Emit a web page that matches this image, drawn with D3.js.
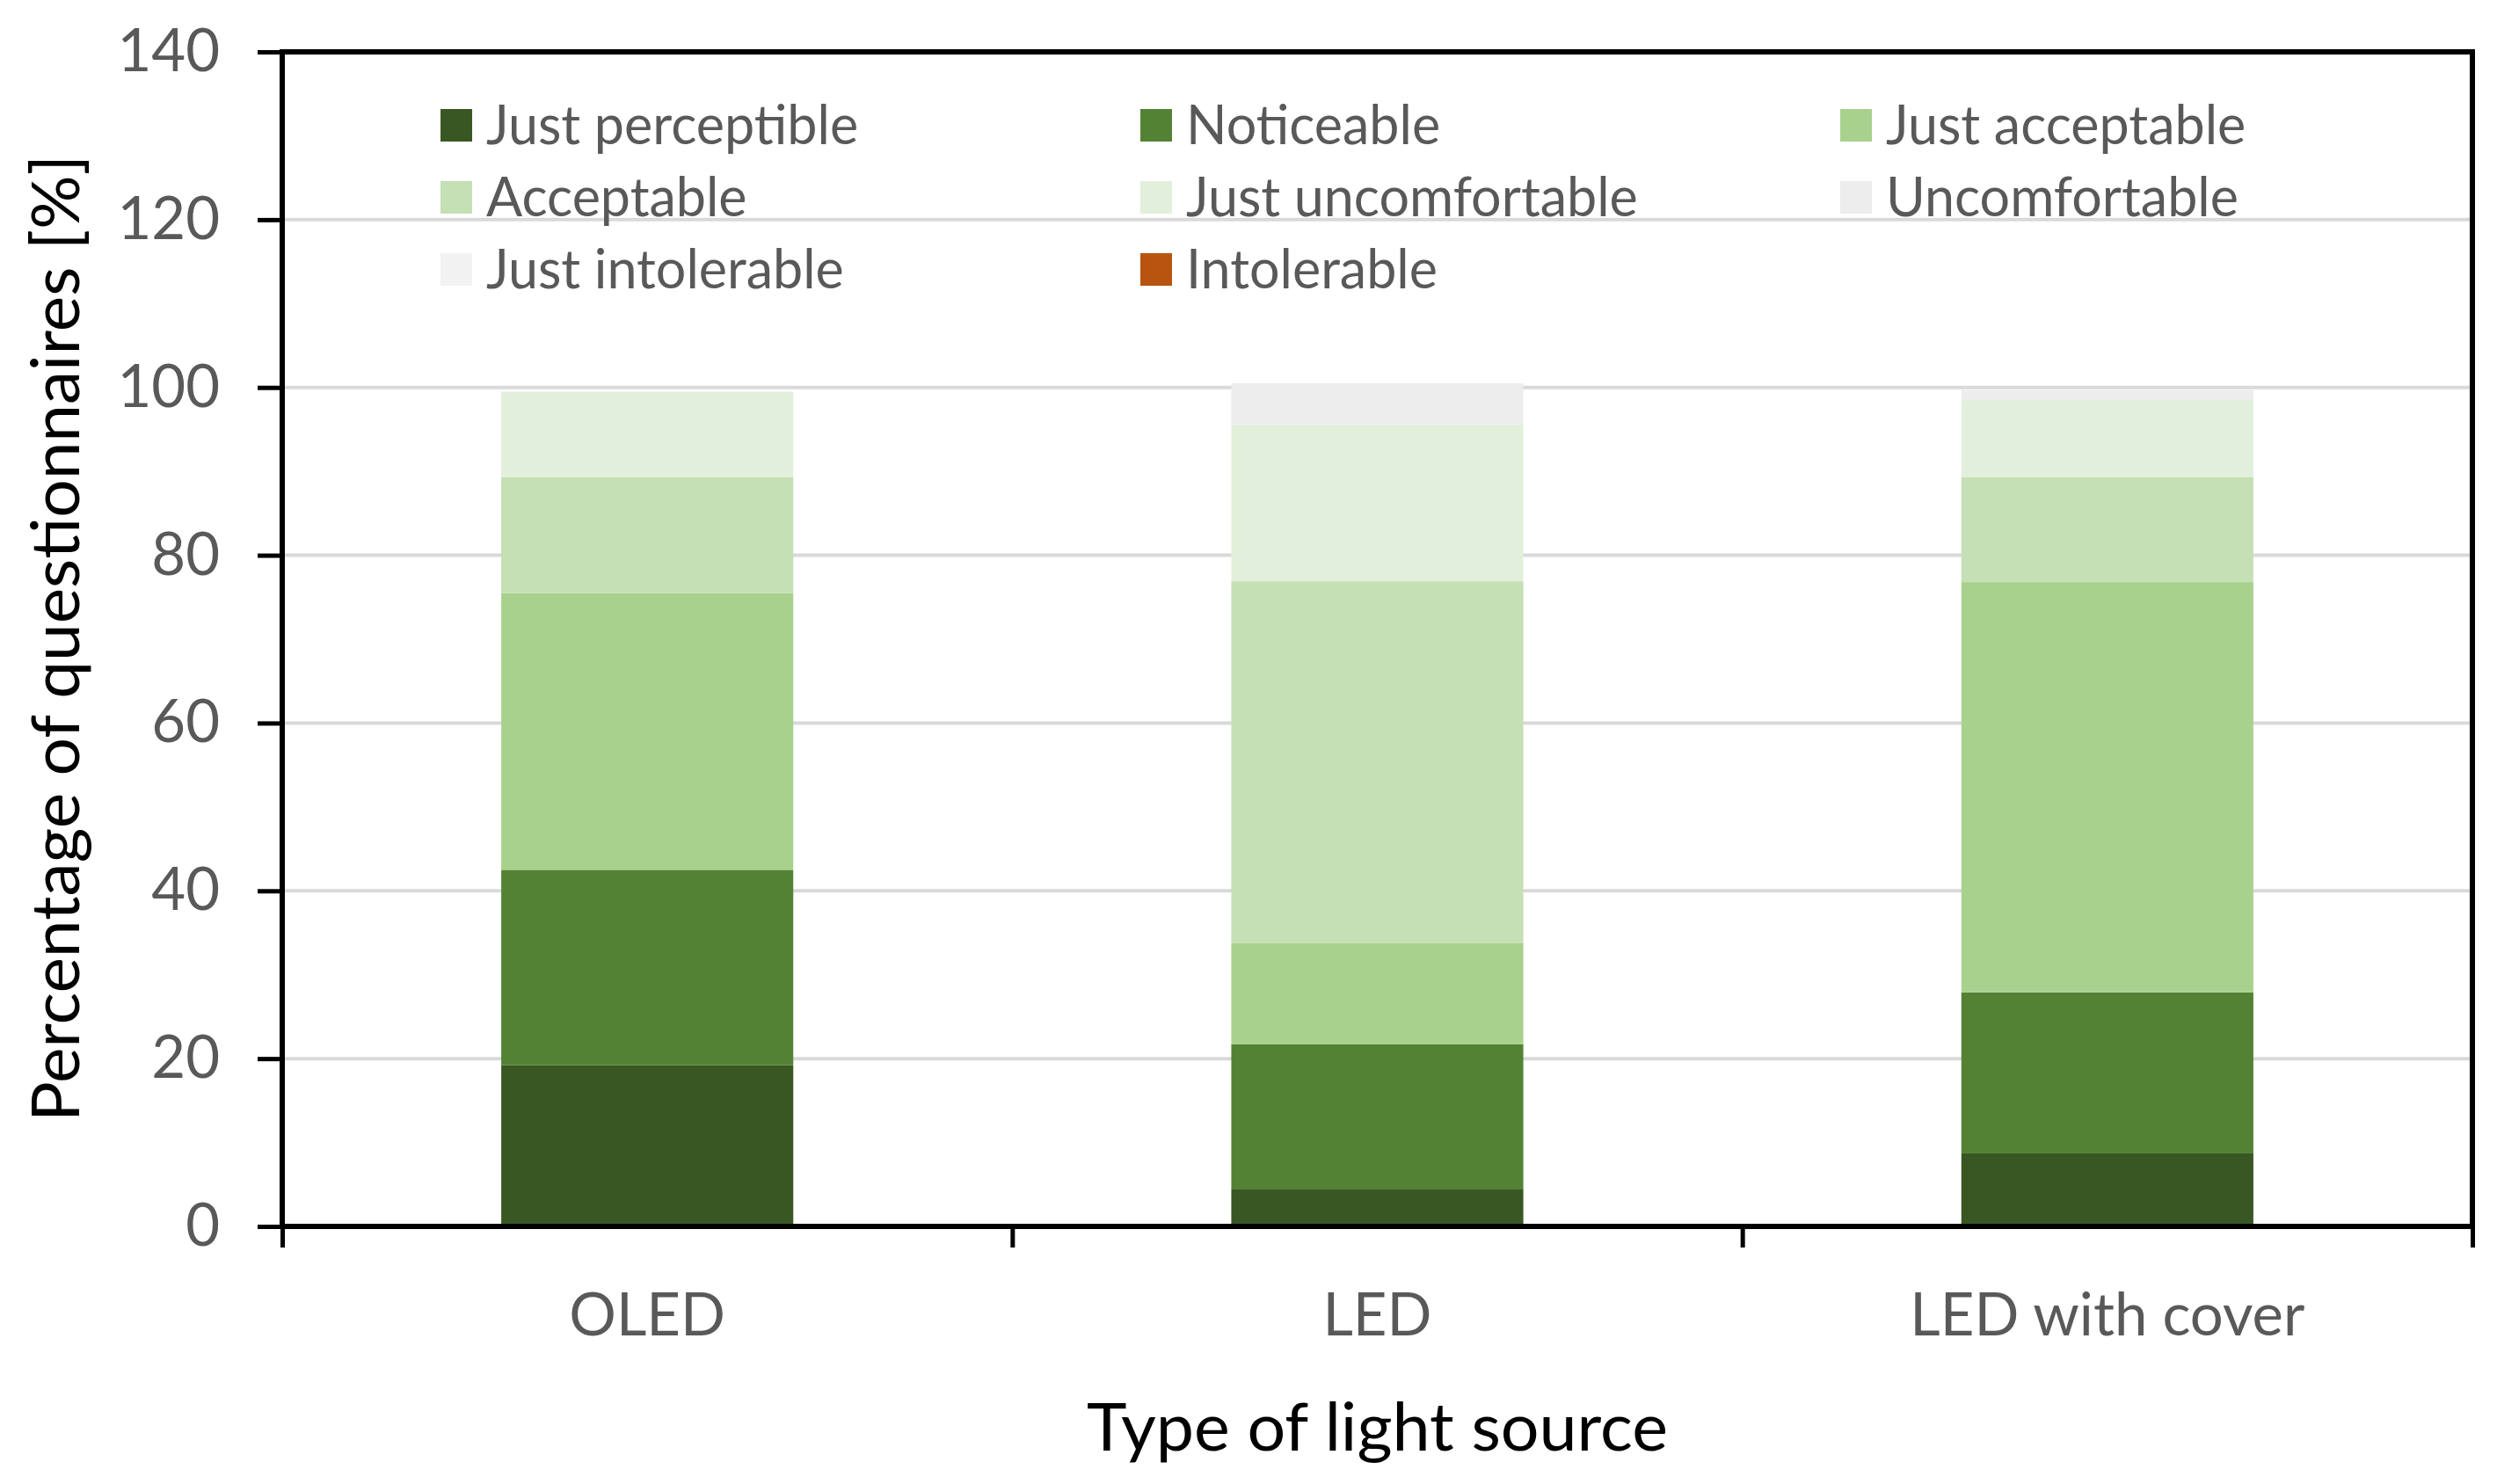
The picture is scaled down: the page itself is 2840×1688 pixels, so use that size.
<!DOCTYPE html>
<html>
<head>
<meta charset="utf-8">
<script src="https://cdn.jsdelivr.net/npm/d3@7"></script>
<style>
  body { margin: 0; background: #fff; }
  svg { display: block; font-family: Lato, "Open Sans", sans-serif; }
</style>
</head>
<body>
<svg id="chart"></svg>
<script>
var categories = ["OLED", "LED", "LED with cover"];

var seriesNames = [
  "Just perceptible", "Noticeable", "Just acceptable",
  "Acceptable", "Just uncomfortable", "Uncomfortable",
  "Just intolerable", "Intolerable"
];

var seriesColors = [
  "#385723", "#548235", "#a9d18e",
  "#c5e0b4", "#e2efda", "#ededed",
  "#f2f2f2", "#b85410"
];

// values per series, one per category (OLED, LED, LED with cover)
var justPerceptible   = [19.2, 4.4, 8.7];
var noticeable        = [23.3, 17.3, 19.2];
var justAcceptable    = [33.0, 12.1, 48.9];
var acceptable        = [13.8, 43.1, 12.5];
var justUncomfortable = [10.2, 18.7, 9.2];
var uncomfortable     = [0, 4.9, 1.2];
var justIntolerable   = [0, 0, 0];
var intolerable       = [0, 0, 0];

var yTicks = [0, 20, 40, 60, 80, 100, 120, 140];

var seriesValues = [
  justPerceptible, noticeable, justAcceptable, acceptable,
  justUncomfortable, uncomfortable, justIntolerable, intolerable
];

var dimensions = {
  width: 2840,
  height: 1688,
  margin: { top: 59, right: 28, bottom: 293, left: 321 }
};

var table = categories.map(function (c, i) {
  var row = { category: c };
  seriesNames.forEach(function (s, j) { row[s] = seriesValues[j][i]; });
  return row;
});

var stacked = d3.stack().keys(seriesNames)(table);

var svg = d3.select("#chart")
  .attr("width", dimensions.width)
  .attr("height", dimensions.height);

var plotLeft = dimensions.margin.left;
var plotRight = dimensions.width - dimensions.margin.right;
var plotTop = dimensions.margin.top;
var plotBottom = dimensions.height - dimensions.margin.bottom;

var xScale = d3.scaleBand()
  .domain(categories)
  .range([plotLeft, plotRight])
  .paddingInner(0.6)
  .paddingOuter(0.3);

var yScale = d3.scaleLinear()
  .domain([0, 140])
  .range([plotBottom, plotTop]);

// gridlines
svg.append("g")
  .selectAll("line")
  .data(yTicks.filter(function (d) { return d > 0 && d < 140; }))
  .enter()
  .append("line")
  .attr("x1", plotLeft)
  .attr("x2", plotRight)
  .attr("y1", function (d) { return yScale(d); })
  .attr("y2", function (d) { return yScale(d); })
  .attr("stroke", "#d9d9d9")
  .attr("stroke-width", 4);

// stacked bars
svg.append("g")
  .selectAll("g")
  .data(stacked)
  .enter()
  .append("g")
  .attr("fill", function (d, i) { return seriesColors[i]; })
  .selectAll("rect")
  .data(function (d) { return d; })
  .enter()
  .append("rect")
  .attr("x", function (d) { return xScale(d.data.category); })
  .attr("width", xScale.bandwidth())
  .attr("y", function (d) { return yScale(d[1]); })
  .attr("height", function (d) { return yScale(d[0]) - yScale(d[1]); });

// legend
var legend = svg.append("g");
var legendItems = legend.selectAll("g")
  .data(seriesNames)
  .enter()
  .append("g")
  .attr("transform", function (d, i) {
    var col = i % 3, row = Math.floor(i / 3);
    return "translate(" + (501 + col * 796) + "," + (124 + row * 82) + ")";
  });

legendItems.append("rect")
  .attr("width", 36)
  .attr("height", 37)
  .attr("fill", function (d, i) { return seriesColors[i]; });

legendItems.append("text")
  .attr("x", 52)
  .attr("y", 40)
  .attr("font-size", 61)
  .attr("fill", "#595959")
  .text(function (d) { return d; });

// y axis
var yAxisgen = d3.axisLeft(yScale)
  .tickValues(yTicks)
  .tickSize(28)
  .tickPadding(43);

var yAxis = svg.append("g")
  .attr("transform", "translate(" + plotLeft + ",0)")
  .call(yAxisgen);
yAxis.select(".domain").remove();
yAxis.selectAll(".tick line").attr("stroke", "#000").attr("stroke-width", 5);
yAxis.selectAll(".tick text")
  .attr("font-size", 67)
  .attr("font-family", "Lato, sans-serif")
  .attr("fill", "#595959");

// x axis: ticks at category boundaries
var boundaryScale = d3.scaleLinear()
  .domain([0, categories.length])
  .range([plotLeft, plotRight]);

var xAxisgen = d3.axisBottom(boundaryScale)
  .tickValues(d3.range(categories.length + 1))
  .tickSize(24)
  .tickFormat("");

var xAxis = svg.append("g")
  .attr("transform", "translate(0," + plotBottom + ")")
  .call(xAxisgen);
xAxis.select(".domain").remove();
xAxis.selectAll(".tick line").attr("stroke", "#000").attr("stroke-width", 5);

svg.append("g")
  .selectAll("text")
  .data(categories)
  .enter()
  .append("text")
  .attr("x", function (d) { return xScale(d) + xScale.bandwidth() / 2; })
  .attr("y", 1519)
  .attr("text-anchor", "middle")
  .attr("font-size", 67)
  .attr("fill", "#595959")
  .text(function (d) { return d; });

// plot frame
svg.append("rect")
  .attr("x", plotLeft)
  .attr("y", plotTop)
  .attr("width", plotRight - plotLeft)
  .attr("height", plotBottom - plotTop)
  .attr("fill", "none")
  .attr("stroke", "#000")
  .attr("stroke-width", 6);

// axis titles
svg.append("text")
  .attr("x", (plotLeft + plotRight) / 2)
  .attr("y", 1650)
  .attr("text-anchor", "middle")
  .attr("font-size", 76)
  .attr("fill", "#000")
  .attr("textLength", 661)
  .attr("lengthAdjust", "spacingAndGlyphs")
  .text("Type of light source");

svg.append("text")
  .attr("transform", "translate(90,726) rotate(-90)")
  .attr("text-anchor", "middle")
  .attr("font-size", 76)
  .attr("fill", "#000")
  .attr("textLength", 1100)
  .attr("lengthAdjust", "spacingAndGlyphs")
  .text("Percentage of questionnaires [%]");
</script>
</body>
</html>
